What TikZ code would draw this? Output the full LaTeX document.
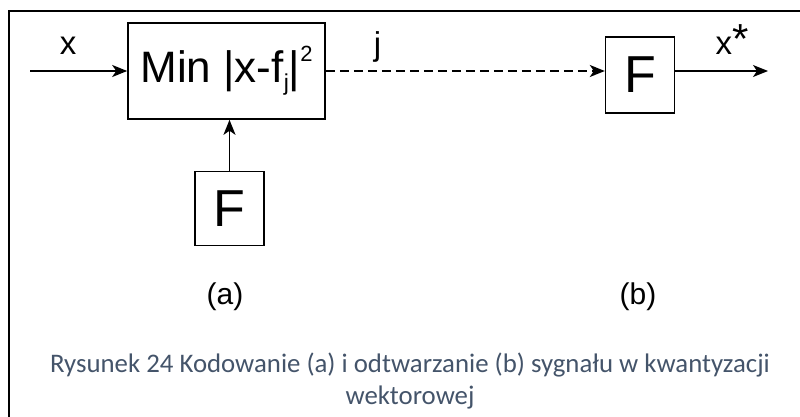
\documentclass[tikz,border=0pt]{standalone}
\usepackage{fontspec}
\setmainfont{Liberation Sans}
\newfontfamily\captionfont{Carlito}
\usetikzlibrary{shapes,positioning,arrows.meta}
\definecolor{captionblue}{HTML}{44546A}

\begin{document}
\begin{tikzpicture}[x=1pt,y=-1pt,line width=1.6pt,
    >={Stealth[length=15pt,width=12pt,inset=4pt]}]

\useasboundingbox (0,0) rectangle (800,417);

% Frame
\draw[line width=2pt] (9,417) -- (9,11) -- (800,11);

% Encoder: nearest codeword search
\node[draw,
    rectangle,
    minimum width=197pt,
    minimum height=96pt,
    inner sep=0,
    font=\fontsize{44}{44}\selectfont] (search) at (226.5,71)
    {Min |x-f\raisebox{-8pt}{\fontsize{23}{23}\selectfont j}|\raisebox{21pt}{\fontsize{22}{22}\selectfont 2}};

% Codebook of the encoder
\node[draw,
    rectangle,
    below=51pt of search,
    xshift=3pt,
    minimum width=69pt,
    minimum height=74pt,
    font=\fontsize{52}{52}\selectfont
] (codebook) {F};

% Codebook of the decoder
\node[draw,
    rectangle,
    right=279pt of search,
    yshift=-4pt,
    minimum width=69pt,
    minimum height=76pt,
    font=\fontsize{52}{52}\selectfont
] (decoder) {F};

% Signal ends
\coordinate (in) at (30,71);
\coordinate (out) at (768,71);

% Signal labels
\node[anchor=base, font=\fontsize{33}{33}\selectfont] (xlabel) at (68,55) {x};
\node[anchor=base, font=\fontsize{33}{33}\selectfont] (jlabel) at (377.5,56) {j};
\node[anchor=base, font=\fontsize{33}{33}\selectfont] (xstar) at (732,55)
    {x\raisebox{1pt}{\fontsize{42}{42}\selectfont *}};

% Part labels
\node[font=\fontsize{30}{30}\selectfont] (parta) at (225,297) {(a)};
\node[font=\fontsize{30}{30}\selectfont] (partb) at (638,297) {(b)};

% Caption
\node[anchor=base, text=captionblue, font=\captionfont\fontsize{26.8}{26.8}\selectfont]
    (caption) at (410,372) {Rysunek 24 Kodowanie (a) i odtwarzanie (b) sygnału w kwantyzacji};
\node[anchor=base, text=captionblue, font=\captionfont\fontsize{26.8}{26.8}\selectfont]
    (captionb) at (410,404) {wektorowej};

% Arrows
\draw[->] (in) -- (search);
\draw[->] (codebook.north) -- (codebook.north |- search.south);
\draw[->, dash pattern=on 9pt off 5pt] (search) -- (search -| decoder.west);
\draw[->] (decoder.east |- out) -- (out);

\end{tikzpicture}
\end{document}
